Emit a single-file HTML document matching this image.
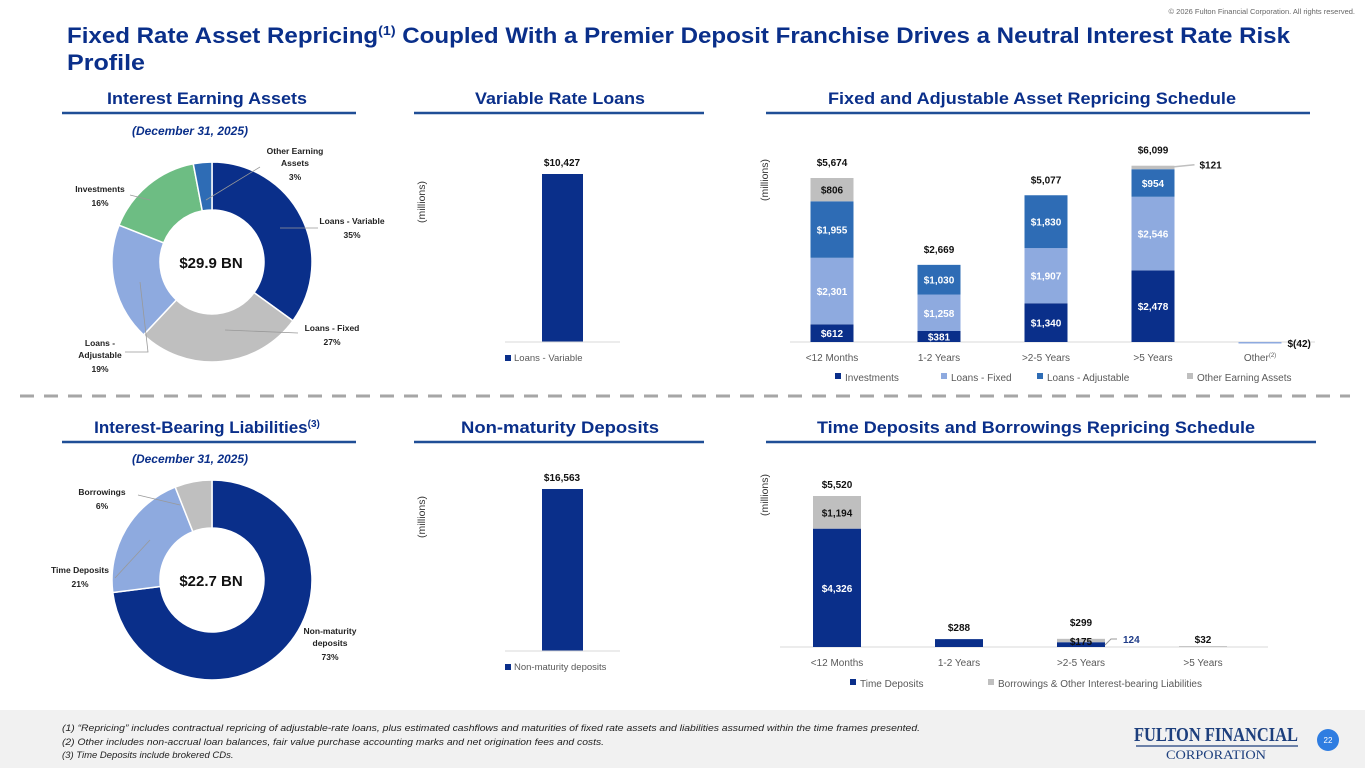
<!DOCTYPE html>
<html><head><meta charset="utf-8">
<style>
body{margin:0;width:1365px;height:768px;overflow:hidden;background:#fff;font-family:"Liberation Sans",sans-serif;}
svg{position:absolute;left:0;top:0}
</style></head>
<body>
<svg width="1365" height="768" viewBox="0 0 1365 768" id="s">
<rect x="0" y="710" width="1365" height="58" fill="#f1f1f1"/>
<text x="1355" y="14" font-size="7.5" fill="#666" text-anchor="end">© 2026 Fulton Financial Corporation. All rights reserved.</text>
<text x="67" y="43" font-size="22" font-weight="bold" fill="#0a2f8a" textLength="1223" lengthAdjust="spacingAndGlyphs">Fixed Rate Asset Repricing<tspan font-size="13" dy="-8">(1)</tspan><tspan dy="8"> Coupled With a Premier Deposit Franchise Drives a Neutral Interest Rate Risk</tspan></text>
<text x="67" y="70" font-size="22" font-weight="bold" fill="#0a2f8a" textLength="78" lengthAdjust="spacingAndGlyphs">Profile</text>

<g font-size="17" font-weight="bold" fill="#0a2f8a" text-anchor="middle">
<text x="207" y="104" textLength="200" lengthAdjust="spacingAndGlyphs">Interest Earning Assets</text>
<text x="560" y="104" textLength="170" lengthAdjust="spacingAndGlyphs">Variable Rate Loans</text>
<text x="1032" y="104" textLength="408" lengthAdjust="spacingAndGlyphs">Fixed and Adjustable Asset Repricing Schedule</text>
<text x="207" y="433">Interest-Bearing Liabilities<tspan font-size="10" dy="-6">(3)</tspan></text>
<text x="560" y="433" textLength="198" lengthAdjust="spacingAndGlyphs">Non-maturity Deposits</text>
<text x="1036" y="433" textLength="438" lengthAdjust="spacingAndGlyphs">Time Deposits and Borrowings Repricing Schedule</text>
</g>
<g stroke="#1f4e96" stroke-width="2.5">
<line x1="62" y1="113" x2="356" y2="113"/><line x1="414" y1="113" x2="704" y2="113"/><line x1="766" y1="113" x2="1310" y2="113"/>
<line x1="62" y1="442" x2="356" y2="442"/><line x1="414" y1="442" x2="704" y2="442"/><line x1="766" y1="442" x2="1316" y2="442"/>
</g>
<line x1="20" y1="396" x2="1350" y2="396" stroke="#a6a6a6" stroke-width="3" stroke-dasharray="14,10"/>
<g font-size="12" font-weight="bold" font-style="italic" fill="#0a2f8a" text-anchor="middle">
<text x="190" y="135">(December 31, 2025)</text>
<text x="190" y="463">(December 31, 2025)</text>
</g>

<g id="donut1"></g>
<g id="donut2"></g>
<text x="211" y="268" font-size="15" font-weight="bold" text-anchor="middle" fill="#111">$29.9 BN</text>
<text x="211" y="586" font-size="15" font-weight="bold" text-anchor="middle" fill="#111">$22.7 BN</text>
<g font-size="8.5" font-weight="bold" fill="#222" text-anchor="middle">
<text x="295" y="154">Other Earning</text><text x="295" y="166">Assets</text><text x="295" y="180">3%</text>
<text x="352" y="224">Loans - Variable</text><text x="352" y="238">35%</text>
<text x="332" y="331">Loans - Fixed</text><text x="332" y="345">27%</text>
<text x="100" y="346">Loans -</text><text x="100" y="358">Adjustable</text><text x="100" y="372">19%</text>
<text x="100" y="192">Investments</text><text x="100" y="206">16%</text>
<text x="102" y="495">Borrowings</text><text x="102" y="509">6%</text>
<text x="80" y="573">Time Deposits</text><text x="80" y="587">21%</text>
<text x="330" y="634">Non-maturity</text><text x="330" y="646">deposits</text><text x="330" y="660">73%</text>
</g>
<g stroke="#999" stroke-width="0.8" fill="none">
<path d="M260 167 L206 200"/><path d="M280 228 L318 228"/><path d="M225 330 L298 333"/><path d="M140 282 L148 352 L125 352"/><path d="M150 200 L130 195"/>
<path d="M180 505 L138 495"/><path d="M150 540 L115 578"/>
</g>

<g id="vrl"></g>
<g id="nmd"></g>
<g id="rep"></g>
<g id="td"></g>

<g font-size="9.5" font-style="italic" fill="#222">
<text x="62" y="731" textLength="858" lengthAdjust="spacingAndGlyphs">(1) “Repricing” includes contractual repricing of adjustable-rate loans, plus estimated cashflows and maturities of fixed rate assets and liabilities assumed within the time frames presented.</text>
<text x="62" y="745" textLength="542" lengthAdjust="spacingAndGlyphs">(2) Other includes non-accrual loan balances, fair value purchase accounting marks and net origination fees and costs.</text>
<text x="62" y="758">(3) Time Deposits include brokered CDs.</text>
</g>
<g>
<text x="1216" y="741" font-family="Liberation Serif,serif" font-size="20" fill="#1d3f7d" text-anchor="middle" font-weight="bold" textLength="164" lengthAdjust="spacingAndGlyphs">FULTON FINANCIAL</text>
<line x1="1136" y1="746" x2="1298" y2="746" stroke="#1d3f7d" stroke-width="1.2"/>
<text x="1216" y="759" font-family="Liberation Serif,serif" font-size="13" fill="#1d3f7d" text-anchor="middle" textLength="100" lengthAdjust="spacingAndGlyphs">CORPORATION</text>
</g>
<circle cx="1328" cy="740" r="11" fill="#2f7de1"/>
<text x="1328" y="743" font-size="8" fill="#fff" text-anchor="middle">22</text>
</svg>
<script>
const NS="http://www.w3.org/2000/svg";
const donut1Labels=["Loans - Variable","Loans - Fixed","Loans - Adjustable","Investments","Other Earning Assets"];
const donut1Values=[35,27,19,16,3];
const donut1Colors=["#0a2f8a","#bfbfbf","#8eaadf","#6dbd83","#2e6cb5"];
const donut2Labels=["Non-maturity deposits","Time Deposits","Borrowings"];
const donut2Values=[73,21,6];
const donut2Colors=["#0a2f8a","#8eaadf","#bfbfbf"];
const vrlValues=[10427];
const nmdValues=[16563];
const repCategories=["<12 Months","1-2 Years",">2-5 Years",">5 Years","Other"];
const repInvestments=[612,381,1340,2478,0];
const repFixed=[2301,1258,1907,2546,0];
const repAdjustable=[1955,1030,1830,954,0];
const repOther=[806,0,0,121,-42];
const repTotals=[5674,2669,5077,6099,-42];
const tdCategories=["<12 Months","1-2 Years",">2-5 Years",">5 Years"];
const tdTime=[4326,288,175,0];
const tdBorrow=[1194,0,124,32];
const tdTotals=[5520,288,299,32];

function el(tag,attrs,parent,txt){const e=document.createElementNS(NS,tag);for(const k in attrs)e.setAttribute(k,attrs[k]);if(txt!==undefined)e.textContent=txt;parent.appendChild(e);return e;}
const fmt=v=>v<0?"$("+Math.abs(v).toLocaleString("en-US")+")":"$"+v.toLocaleString("en-US");

function donut(id,vals,cols,names,cx,cy,R,r){
  const g=document.getElementById(id);const tot=vals.reduce((a,b)=>a+b,0);let a0=0;
  vals.forEach((v,i)=>{const a1=a0+v/tot*2*Math.PI;
    const p=(a,rad)=>[cx+rad*Math.sin(a),cy-rad*Math.cos(a)];const L=a1-a0>Math.PI?1:0;
    const [x1,y1]=p(a0,R),[x2,y2]=p(a1,R),[x3,y3]=p(a1,r),[x4,y4]=p(a0,r);
    const s=el("path",{d:`M${x1} ${y1}A${R} ${R} 0 ${L} 1 ${x2} ${y2}L${x3} ${y3}A${r} ${r} 0 ${L} 0 ${x4} ${y4}Z`,fill:cols[i],stroke:"#fff","stroke-width":1.5},g);
    
    
    a0=a1;});
}
donut("donut1",donut1Values,donut1Colors,donut1Labels,212,262,100,52);
donut("donut2",donut2Values,donut2Colors,donut2Labels,212,580,100,52);

function single(id,vals,max,base,top,label,legendY){
  const g=document.getElementById(id);const y=v=>base-(v/max)*(base-top);
  vals.forEach(v=>{const b=el("rect",{x:542,y:y(v),width:41,height:base-y(v),fill:"#0a2f8a"},g);
    
    
    const t=el("text",{x:562,y:y(v)-8,"font-size":10,"font-weight":"bold","text-anchor":"middle",fill:"#111"},g,fmt(v));
    
    });
  el("line",{x1:505,y1:base,x2:620,y2:base,stroke:"#d9d9d9"},g);
  el("rect",{x:505,y:legendY-6,width:6,height:6,fill:"#0a2f8a"},g);
  const lt=el("text",{x:514,y:legendY,"font-size":9.5,fill:"#595959"},g,label);
  
  
  const yt=el("text",{transform:`translate(425,${top+28}) rotate(-90)`,"font-size":10.5,fill:"#333","text-anchor":"middle"},g,"(millions)");
  
  
}
single("vrl",vrlValues,10427,342,174,"Loans - Variable",361);
single("nmd",nmdValues,16563,651,489,"Non-maturity deposits",670);

(function(){
  const g=document.getElementById("rep");const base=342,scale=164/5674;const X0=832,step=107,w=43;
  const h=v=>v*scale;
  const series=[[repInvestments,"#0a2f8a","#fff","investments"],[repFixed,"#8eaadf","#fff","loans-fixed"],[repAdjustable,"#2e6cb5","#fff","loans-adjustable"],[repOther,"#bfbfbf","#111","other-earning-assets"]];
  el("line",{x1:790,y1:base,x2:1315,y2:base,stroke:"#d9d9d9"},g);
  repCategories.forEach((c,i)=>{const cx=X0+i*step;let y=base;
    series.forEach(([arr,col,tc,nm])=>{const v=arr[i];if(v===0)return;
      if(v<0){const r=el("rect",{x:cx-w/2,y:base,width:w,height:Math.max(1.5,h(-v)),fill:"#8eaadf"},g);
        
        return;}
      const hh=h(v);y-=hh;const r=el("rect",{x:cx-w/2,y:y,width:w,height:hh,fill:col},g);
      
      
      if(hh>10){const t=el("text",{x:cx,y:y+hh/2+4,"font-size":10,"font-weight":"bold","text-anchor":"middle",fill:tc},g,fmt(v));
        
        }
      else if(v>0){el("line",{x1:cx+w/2,y1:y+1,x2:cx+w/2+20,y2:y-1,stroke:"#bfbfbf","stroke-width":1.5},g);
        const t=el("text",{x:cx+w/2+25,y:y+3,"font-size":10,"font-weight":"bold",fill:"#111"},g,fmt(v));
        
        }
    });
    const tot=repTotals[i];
    const tt=tot<0?el("text",{x:cx+w/2+6,y:base+5,"font-size":10,"font-weight":"bold",fill:"#111"},g,fmt(tot)):el("text",{x:cx,y:y-12,"font-size":10,"font-weight":"bold","text-anchor":"middle",fill:"#111"},g,fmt(tot));
    
    
    const xl=el("text",{x:cx,y:base+19,"font-size":10,"text-anchor":"middle",fill:"#595959"},g,c);
    
    
    if(c==="Other"){el("tspan",{"font-size":6,dy:-4},xl,"(2)");}
  });
  const leg=[["Investments","#0a2f8a",835],["Loans - Fixed","#8eaadf",941],["Loans - Adjustable","#2e6cb5",1037],["Other Earning Assets","#bfbfbf",1187]];
  leg.forEach(([n,c,x])=>{el("rect",{x:x,y:373,width:6,height:6,fill:c},g);
    const t=el("text",{x:x+10,y:381,"font-size":10,fill:"#595959"},g,n);
    
    });
  const yt=el("text",{transform:"translate(768,180) rotate(-90)","font-size":10.5,fill:"#333","text-anchor":"middle"},g,"(millions)");
  
  
})();

(function(){
  const g=document.getElementById("td");const base=647,scale=151/5520;const X0=837,step=122,w=48;
  el("line",{x1:780,y1:base,x2:1268,y2:base,stroke:"#d9d9d9"},g);
  tdCategories.forEach((c,i)=>{const cx=X0+i*step;let y=base;
    [[tdTime,"#0a2f8a","#fff","time-deposits"],[tdBorrow,"#bfbfbf","#111","borrowings"]].forEach(([arr,col,tc,nm])=>{const v=arr[i];if(v===0)return;
      const hh=v*scale;y-=hh;const r=el("rect",{x:cx-w/2,y:y,width:w,height:hh,fill:col},g);
      
      
      if(hh>20){const t=el("text",{x:cx,y:y+hh/2+4,"font-size":10,"font-weight":"bold","text-anchor":"middle",fill:tc},g,fmt(v));
        
        }
    });
    if(i===2){const t=el("text",{x:cx,y:base-2,"font-size":10,"font-weight":"bold","text-anchor":"middle",fill:"#111"},g,fmt(tdTime[i]));
      
      
      el("path",{d:`M${cx+w/2} ${base-2} L${cx+w/2+6} ${base-8} L${cx+w/2+12} ${base-8}`,stroke:"#999",fill:"none"},g);
      const t2=el("text",{x:cx+w/2+18,y:base-4,"font-size":10,"font-weight":"bold",fill:"#1f3c88"},g,String(tdBorrow[i]));
      
      }
    const yT=(i===3)?base-4:y-(i===2?13:8);
    const tt=el("text",{x:cx,y:yT,"font-size":10,"font-weight":"bold","text-anchor":"middle",fill:"#111"},g,fmt(tdTotals[i]));
    
    
    const xl=el("text",{x:cx,y:base+19,"font-size":10,"text-anchor":"middle",fill:"#595959"},g,c);
    
    
  });
  [["Time Deposits","#0a2f8a",850],["Borrowings & Other Interest-bearing Liabilities","#bfbfbf",988]].forEach(([n,c,x])=>{el("rect",{x:x,y:679,width:6,height:6,fill:c},g);
    const t=el("text",{x:x+10,y:687,"font-size":10,fill:"#595959"},g,n);
    
    });
  const yt=el("text",{transform:"translate(768,495) rotate(-90)","font-size":10.5,fill:"#333","text-anchor":"middle"},g,"(millions)");
  
  
})();
</script>
</body></html>
